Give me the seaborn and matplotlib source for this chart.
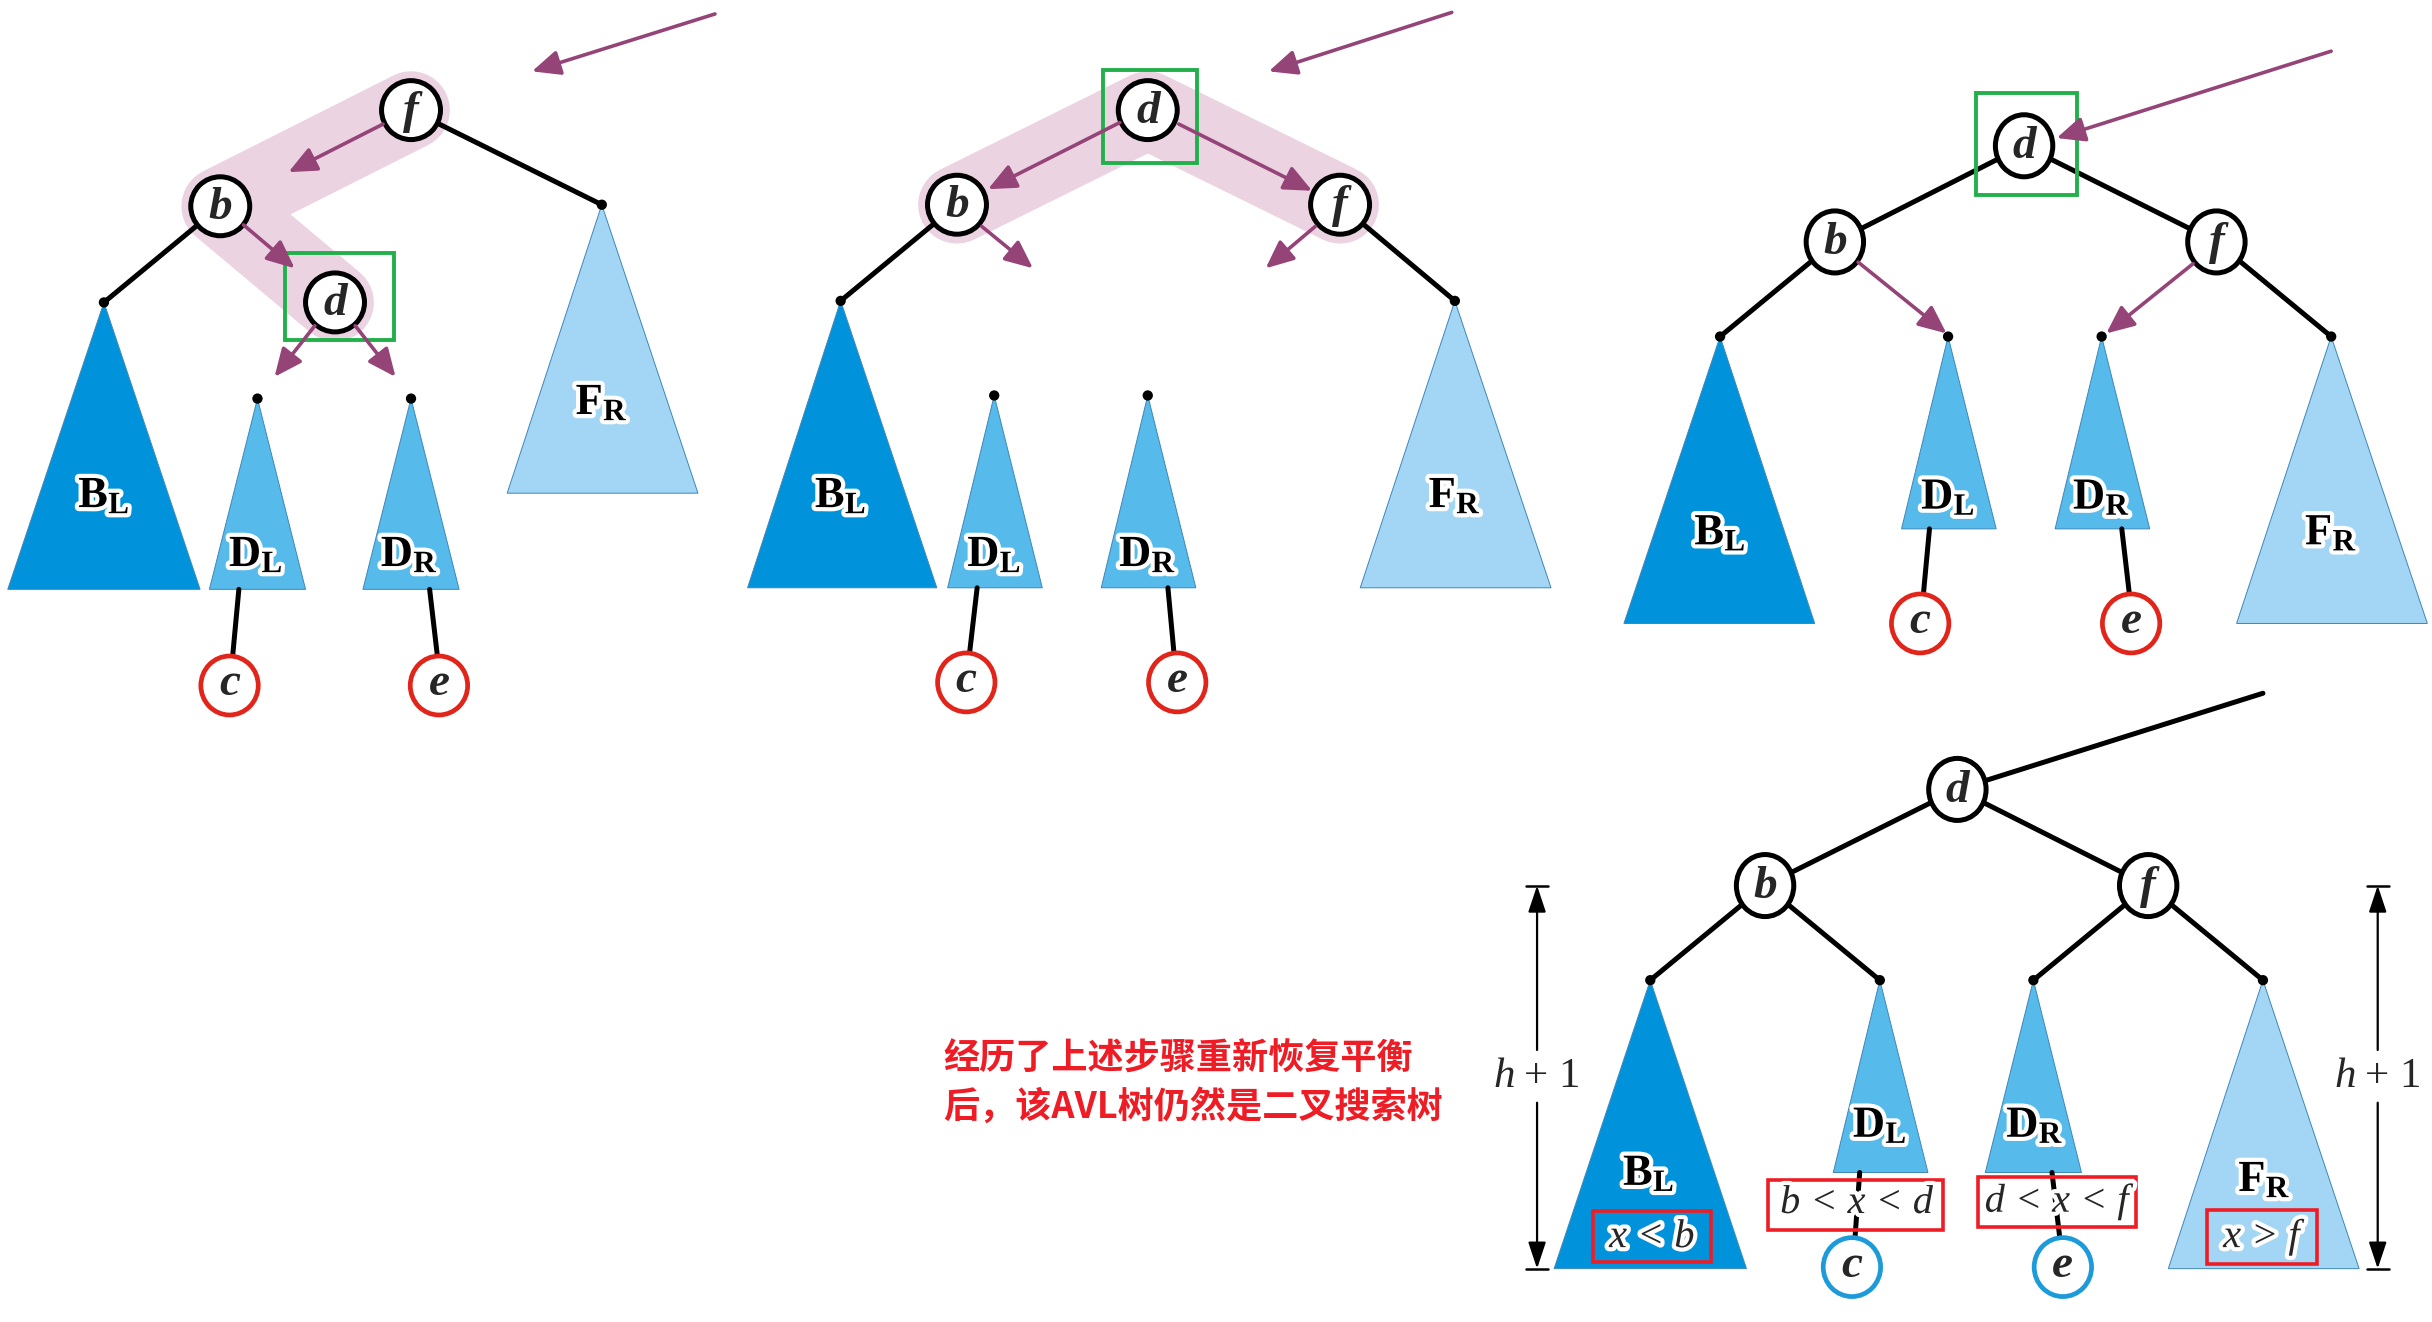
import pandas as pd
import matplotlib.pyplot as plt
import matplotlib.patheffects as pe
from matplotlib.patches import Ellipse, Polygon, Rectangle, FancyArrowPatch
import seaborn as sns

sns.set_style('white')
plt.rcParams['font.family'] = ['Liberation Serif', 'DejaVu Sans']
plt.rcParams['mathtext.fontset'] = 'custom'
plt.rcParams['mathtext.rm'] = 'Liberation Serif'
plt.rcParams['mathtext.it'] = 'Liberation Serif:italic'
plt.rcParams['mathtext.bf'] = 'Liberation Serif:bold'

# ---- data (picture coordinates, 1568 x 852 grid, y downwards) ----
sub_labels = [r'$\mathbf{B}_\mathbf{L}$', r'$\mathbf{D}_\mathbf{L}$',
              r'$\mathbf{D}_\mathbf{R}$', r'$\mathbf{F}_\mathbf{R}$']
sub_colors = ['#0093dc', '#56baeb', '#56baeb', '#a3d5f4']
leaf_labels = ['c', 'e']

# panel 1: before rotation
p1_nodes = {'f': (265, 71), 'b': (142, 133), 'd': (216, 195)}
p1_edges = [((265, 71), (388, 132)), ((142, 133), (67, 195))]
p1_apex = [(67, 195), (166, 257), (265, 257), (388, 132)]
p1_base_x = [(5, 129), (135, 197), (234, 296), (327, 450)]
p1_base_y = [380, 380, 380, 318]
p1_label_xy = [(67, 320), (165, 358), (264, 358), (388, 260)]
p1_leaves = [(148, 442), (283, 442)]
p1_leaf_lines = [((154, 380), (150, 423)), ((277, 380), (282, 423))]
p1_arrows = [((461, 9), (343, 46)), ((247, 80), (186, 111)), ((157, 145), (190, 173)),
             ((203, 210), (177, 243)), ((229, 210), (255, 243))]
p1_band = [(265, 71), (142, 133), (216, 195)]
p1_box = (184, 163, 254, 219)

# panel 2: d lifted up
p2_nodes = {'d': (740, 71), 'b': (617, 132), 'f': (864, 132)}
p2_edges = [((617, 132), (542, 194)), ((864, 132), (938, 194))]
p2_apex = [(542, 194), (641, 255), (740, 255), (938, 194)]
p2_base_x = [(482, 604), (611, 672), (710, 771), (877, 1000)]
p2_base_y = [379, 379, 379, 379]
p2_label_xy = [(542, 320), (641, 358), (740, 358), (938, 320)]
p2_leaves = [(623, 440), (759, 440)]
p2_leaf_lines = [((630, 379), (625, 422)), ((753, 379), (757, 422))]
p2_arrows = [((936, 8), (818, 46)), ((722, 79), (637, 122)), ((760, 80), (846, 123)),
             ((633, 146), (666, 173)), ((848, 146), (816, 173))]
p2_band = [(617, 132), (740, 71), (864, 132)]
p2_box = (711, 45, 772, 105)

# panel 3: subtrees re-attached
p3_nodes = {'d': (1305, 94), 'b': (1183, 156), 'f': (1429, 156)}
p3_edges = [((1305, 94), (1183, 156)), ((1305, 94), (1429, 156)),
            ((1183, 156), (1109, 217)), ((1429, 156), (1503, 217))]
p3_apex = [(1109, 217), (1256, 217), (1355, 217), (1503, 217)]
p3_base_x = [(1047, 1170), (1226, 1287), (1325, 1386), (1442, 1565)]
p3_base_y = [402, 341, 341, 402]
p3_label_xy = [(1109, 344), (1256, 321), (1355, 321), (1503, 344)]
p3_leaves = [(1238, 402), (1374, 402)]
p3_leaf_lines = [((1244, 341), (1240, 384)), ((1368, 341), (1373, 384))]
p3_arrows = [((1503, 33), (1326, 89)), ((1198, 169), (1255, 215)), ((1414, 170), (1358, 215))]
p3_box = (1274, 60, 1339, 126)

# panel 4: final balanced tree
p4_nodes = {'d': (1262, 509), 'b': (1138, 571), 'f': (1385, 571)}
p4_edges = [((1262, 509), (1459, 447)), ((1262, 509), (1138, 571)), ((1262, 509), (1385, 571)),
            ((1138, 571), (1064, 632)), ((1138, 571), (1212, 632)),
            ((1385, 571), (1311, 632)), ((1385, 571), (1459, 632))]
p4_apex = [(1064, 632), (1212, 632), (1311, 632), (1459, 632)]
p4_base_x = [(1002, 1126), (1182, 1243), (1280, 1342), (1398, 1521)]
p4_base_y = [818, 756, 756, 818]
p4_label_xy = [(1063, 757), (1212, 726), (1312, 726), (1460, 761)]
p4_leaves = [(1194, 817), (1330, 817)]
p4_leaf_lines = [((1199, 756), (1196, 798)), ((1323, 756), (1328, 798))]
range_texts = ['x < b', 'b < x < d', 'd < x < f', 'x > f']
range_boxes = [(1027, 781, 1103, 814), (1140, 761, 1253, 793),
               (1275, 759, 1377, 791), (1423, 780, 1494, 815)]
range_text_xy = [(1065, 798), (1197, 776), (1326, 775), (1458, 798)]
height_parts = ['h', '+ 1']
height_x = [991, 1533]
height_top, height_bottom, height_mid = 571, 818, 694

note_lines = ['经历了上述步骤重新恢复平衡', '后，该AVL树仍然是二叉搜索树']
note_xy = [(608, 683), (608, 714)]

PURPLE = '#954478'
PINK = '#ebd3e2'
GREEN = '#22b04b'
RED = '#e1251b'
BLUE = '#1d9ad9'
BOXRED = '#ee1c25'
outline = [pe.withStroke(linewidth=6, foreground='white')]

fig = plt.figure(figsize=(24.32, 13.22), dpi=100)
ax = fig.add_axes([0, 0, 1, 1])

# apex dots through seaborn
apex_all = pd.DataFrame(p1_apex + p2_apex + p3_apex + p4_apex, columns=['x', 'y'])
sns.scatterplot(data=apex_all, x='x', y='y', color='black', s=55, edgecolor='none',
                legend=False, ax=ax, zorder=4)


def draw_panel(nodes, edges, apex, base_x, base_y, label_xy, leaves, leaf_lines,
               leaf_color, node_w=38, node_h=38):
    for (a, b) in edges:
        ax.plot([a[0], b[0]], [a[1], b[1]], color='black', lw=3.6, zorder=3,
                solid_capstyle='round')
    for i in range(4):
        tri = Polygon([apex[i], (base_x[i][0], base_y[i]), (base_x[i][1], base_y[i])],
                      closed=True, fc=sub_colors[i], ec='#3f86b8', lw=0.7, zorder=1)
        ax.add_patch(tri)
        ax.text(label_xy[i][0], label_xy[i][1], sub_labels[i], ha='center', va='center',
                fontsize=32, color='black', zorder=6, path_effects=outline)
    for (a, b) in leaf_lines:
        ax.plot([a[0], b[0]], [a[1], b[1]], color='black', lw=3.6, zorder=2)
    for name, (x, y) in nodes.items():
        ax.add_patch(Ellipse((x, y), node_w, node_h, fc='white', ec='black', lw=3.6, zorder=5))
        ax.text(x, y + 1, name, ha='center', va='center', fontsize=34, style='italic',
                weight='bold', family='Liberation Serif', zorder=6)
    for lab, (x, y) in zip(leaf_labels, leaves):
        ax.add_patch(Ellipse((x, y), 37, 38, fc='white', ec=leaf_color, lw=3.4, zorder=5))
        ax.text(x, y - 1, lab, ha='center', va='center', fontsize=34, style='italic',
                weight='bold', family='Liberation Serif', zorder=6)


def draw_arrows(arrows):
    for (a, b) in arrows:
        ax.add_patch(FancyArrowPatch(a, b, arrowstyle='-|>,head_length=0.85,head_width=0.38',
                                     mutation_scale=20, lw=2.6, color=PURPLE,
                                     shrinkA=0, shrinkB=0, zorder=7))


def draw_box(box, color, lw, z):
    x0, y0, x1, y1 = box
    ax.add_patch(Rectangle((x0, y0), x1 - x0, y1 - y0, fill=False, ec=color, lw=lw, zorder=z))


# panel 1
xs, ys = zip(*p1_band)
ax.plot(xs, ys, color=PINK, lw=56, solid_capstyle='round', solid_joinstyle='round', zorder=0.5)
draw_panel(p1_nodes, p1_edges, p1_apex, p1_base_x, p1_base_y, p1_label_xy,
           p1_leaves, p1_leaf_lines, RED)
draw_arrows(p1_arrows)
draw_box(p1_box, GREEN, 2.8, 4.5)

# panel 2
xs, ys = zip(*p2_band)
ax.plot(xs, ys, color=PINK, lw=56, solid_capstyle='round', solid_joinstyle='round', zorder=0.5)
draw_panel(p2_nodes, p2_edges, p2_apex, p2_base_x, p2_base_y, p2_label_xy,
           p2_leaves, p2_leaf_lines, RED)
draw_arrows(p2_arrows)
draw_box(p2_box, GREEN, 2.8, 4.5)

# panel 3
draw_panel(p3_nodes, p3_edges, p3_apex, p3_base_x, p3_base_y, p3_label_xy,
           p3_leaves, p3_leaf_lines, RED, node_w=37, node_h=40)
draw_arrows(p3_arrows)
draw_box(p3_box, GREEN, 2.8, 4.5)

# panel 4
draw_panel(p4_nodes, p4_edges, p4_apex, p4_base_x, p4_base_y, p4_label_xy,
           p4_leaves, p4_leaf_lines, BLUE, node_w=37, node_h=40)
for txt, box, (x, y) in zip(range_texts, range_boxes, range_text_xy):
    draw_box(box, BOXRED, 2.6, 6.5)
    ax.text(x, y, txt, ha='center', va='center', fontsize=29, style='italic',
            family='Liberation Serif', zorder=7, path_effects=outline)

for hx in height_x:
    for end, start in [(height_top, height_mid - 17), (height_bottom, height_mid + 17)]:
        ax.add_patch(FancyArrowPatch((hx, start), (hx, end),
                                     arrowstyle='-|>,head_length=0.9,head_width=0.3',
                                     mutation_scale=18, lw=1.6, color='black',
                                     shrinkA=0, shrinkB=0, zorder=3))
        ax.plot([hx - 7, hx + 7], [end, end], color='black', lw=1.8, zorder=3)
    ax.text(hx - 21, height_mid, height_parts[0], ha='center', va='center', fontsize=31,
            style='italic', family='Liberation Serif', zorder=6)
    ax.text(hx + 10, height_mid, height_parts[1], ha='center', va='center', fontsize=31,
            family='Liberation Serif', zorder=6)

for line, (x, y) in zip(note_lines, note_xy):
    ax.text(x, y, line, ha='left', va='center', fontsize=26, color=BOXRED, weight='bold',
            family=['Noto Sans CJK SC', 'DejaVu Sans'])

ax.set_xlim(0, 1568)
ax.set_ylim(852.4, 0)
ax.axis('off')
fig.savefig('out.png', dpi=100, facecolor='white')
